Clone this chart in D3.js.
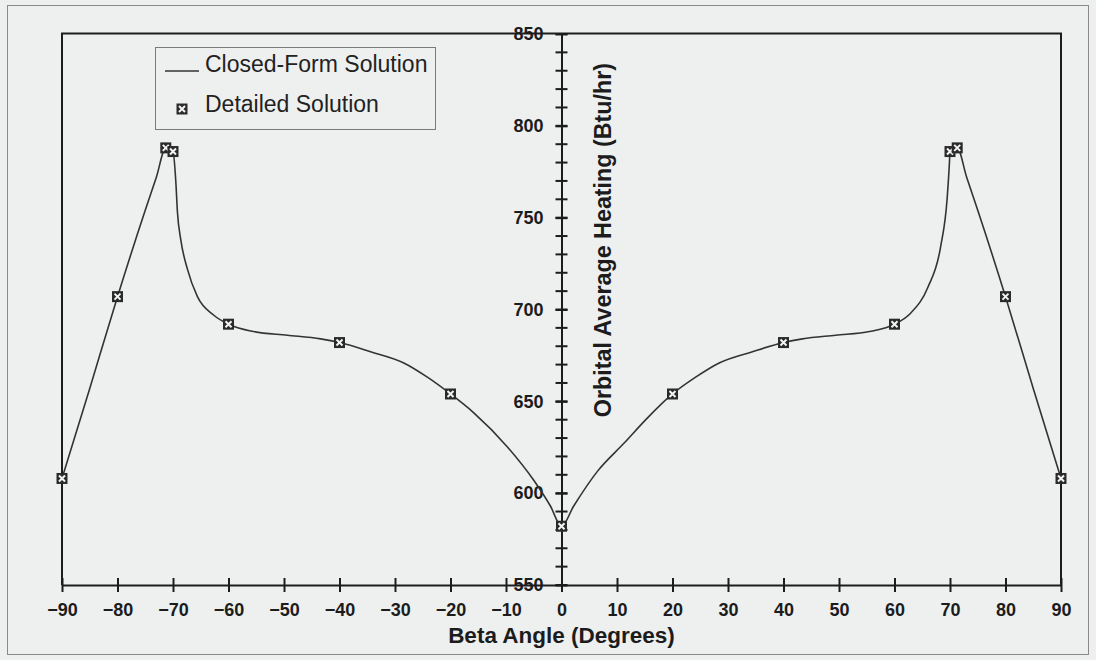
<!DOCTYPE html>
<html>
<head>
<meta charset="utf-8">
<script src="https://cdn.jsdelivr.net/npm/d3@7"></script>
<style>
  html, body { margin: 0; padding: 0; background: #eef0f0; }
  svg { display: block; font-family: "Liberation Sans", Arial, sans-serif; }
</style>
</head>
<body>
<main></main>
<script>
"use strict";

// detailed solution points (beta angle in degrees, heating in Btu/hr)
const detailBeta = [-90, -80, -71.3, -70, -60, -40, -20, 0, 20, 40, 60, 70, 71.3, 80, 90];
const detailHeat = [608, 707, 788, 786, 692, 682, 654, 582, 654, 682, 692, 786, 788, 707, 608];

// closed-form curve
const curveBeta = [-90, -85, -80, -75, -73, -71.3, -70, -69.5, -69.2, -68.6, -67.4, -65.6, -62.7, -60, -55.5, -49.4,
  -43.4, -40, -34.4, -28.5, -24.1, -20, -15.9, -9.7, -5, -2, 0, 2.2, 6.5, 11.2, 15.5, 20, 24.1, 28.5, 34.4, 40,
  43.4, 49.4, 55.5, 60, 62.9, 66, 68.3, 69.5, 69.9, 70, 71.3, 73, 75, 80, 85, 90];
const curveHeat = [608, 657, 707, 754, 772, 788, 786, 770, 753, 738, 722, 707, 697, 692, 688, 686,
  684, 682, 677, 671, 663, 654, 644, 625, 607, 593, 582, 593, 612, 627, 641, 654, 663, 671, 677, 682,
  684, 686, 688, 692, 698, 712, 734, 761, 780, 786, 788, 772, 754, 707, 657, 608];

const xTicks = [-90, -80, -70, -60, -50, -40, -30, -20, -10, 0, 10, 20, 30, 40, 50, 60, 70, 80, 90];
const yTicks = [550, 600, 650, 700, 750, 800, 850];
const yMinorTicks = d3.range(550, 851, 10);

const legendLabels = ["Closed-Form Solution", "Detailed Solution"];
const xTitle = "Beta Angle (Degrees)";
const yTitle = "Orbital Average Heating (Btu/hr)";

const svgWidth = 1096;
const svgHeight = 660;
const plotLeft = 62, plotRight = 1061, plotTop = 34, plotBottom = 585;
const ink = "#1c1c1c";

const svg = d3.select("main")
  .append("svg")
  .attr("width", svgWidth)
  .attr("height", svgHeight)
;

svg.append("rect")
  .attr("x", 7.5).attr("y", 5.5)
  .attr("width", svgWidth - 15).attr("height", svgHeight - 11)
  .attr("fill", "#eef0f0")
  .attr("stroke", "#8a8a8a")
  .attr("stroke-width", 1)
;

const xScale = d3.scaleLinear().domain([-90, 90]).range([plotLeft, plotRight]);
const yScale = d3.scaleLinear().domain([550, 850]).range([plotBottom, plotTop]);

// plot frame (top, left, right)
svg.append("path")
  .attr("d", `M${plotLeft},${plotBottom} V${plotTop - 0.5} H${plotRight} V${plotBottom}`)
  .attr("fill", "none")
  .attr("stroke", ink)
  .attr("stroke-width", 2)
;

// x axis at the bottom, ticks crossing the line
const xAxis = d3.axisBottom(xScale)
  .tickValues(xTicks)
  .tickSizeInner(7)
  .tickSizeOuter(0)
  .tickFormat(d3.format("d"))
;
const gx = svg.append("g")
  .attr("transform", `translate(0, ${plotBottom})`)
  .call(xAxis)
;
gx.select(".domain").attr("stroke", ink).attr("stroke-width", 2);
gx.selectAll(".tick line").attr("y1", -7).attr("stroke", ink).attr("stroke-width", 2);
gx.selectAll(".tick text")
  .attr("y", 18.5)
  .attr("fill", ink)
  .style("font-size", "18px")
  .style("font-weight", "bold")
  .style("font-family", "'Liberation Sans', Arial, sans-serif")
;

// y axis through beta = 0
const x0 = xScale(0);
const yAxis = d3.axisLeft(yScale)
  .tickValues(yTicks)
  .tickSizeInner(6)
  .tickSizeOuter(0)
  .tickFormat(d3.format("d"))
;
const gy = svg.append("g")
  .attr("transform", `translate(${x0}, 0)`)
  .call(yAxis)
;
gy.select(".domain").attr("stroke", ink).attr("stroke-width", 2);
gy.selectAll(".tick line").attr("x2", 6).attr("x1", -6).attr("stroke", ink).attr("stroke-width", 2);
gy.selectAll(".tick text")
  .attr("x", -18)
  .attr("fill", ink)
  .style("font-size", "18px")
  .style("font-weight", "bold")
  .style("font-family", "'Liberation Sans', Arial, sans-serif")
;
svg.append("g")
  .selectAll("line")
  .data(yMinorTicks)
  .enter()
  .append("line")
  .attr("x1", x0 - 6)
  .attr("x2", x0 + 6)
  .attr("y1", d => yScale(d))
  .attr("y2", d => yScale(d))
  .attr("stroke", ink)
  .attr("stroke-width", 2)
;

// axis titles
svg.append("text")
  .attr("x", x0)
  .attr("y", 643)
  .attr("text-anchor", "middle")
  .attr("fill", ink)
  .style("font-size", "22.5px")
  .style("font-weight", "bold")
  .text(xTitle)
;
svg.append("text")
  .attr("transform", `translate(611, 240) rotate(-90)`)
  .attr("text-anchor", "middle")
  .attr("fill", ink)
  .style("font-size", "23.3px")
  .style("font-weight", "bold")
  .text(yTitle)
;

// closed-form curve
const curvePoints = curveBeta.map((b, i) => [b, curveHeat[i]]);
const line = d3.line()
  .x(d => xScale(d[0]))
  .y(d => yScale(d[1]))
  .curve(d3.curveMonotoneX)
;
svg.append("path")
  .datum(curvePoints)
  .attr("d", line)
  .attr("fill", "none")
  .attr("stroke", "#333")
  .attr("stroke-width", 1.6)
;

// marker: dark square with a white cross
function drawMarker(g, cx, cy) {
  const s = 11;
  g.append("rect")
    .attr("x", cx - s / 2).attr("y", cy - s / 2)
    .attr("width", s).attr("height", s)
    .attr("fill", "#2a2a2a")
  ;
  g.append("path")
    .attr("d", `M${cx - 3},${cy - 3} L${cx + 3},${cy + 3} M${cx + 3},${cy - 3} L${cx - 3},${cy + 3}`)
    .attr("stroke", "#f4f4f4")
    .attr("stroke-width", 2)
  ;
}

const markers = svg.append("g");
detailBeta.forEach((b, i) => drawMarker(markers, xScale(b), yScale(detailHeat[i])));

// legend
const legend = svg.append("g");
legend.append("rect")
  .attr("x", 155.5).attr("y", 47.5)
  .attr("width", 280).attr("height", 82)
  .attr("fill", "#eef0f0")
  .attr("stroke", "#7a7a7a")
  .attr("stroke-width", 1)
;
legend.append("line")
  .attr("x1", 165).attr("x2", 199)
  .attr("y1", 71).attr("y2", 71)
  .attr("stroke", "#333")
  .attr("stroke-width", 1.6)
;
drawMarker(legend, 182, 109);
legend.selectAll("text.label")
  .data(legendLabels)
  .enter()
  .append("text")
  .attr("class", "label")
  .attr("x", 205)
  .attr("y", (d, i) => 72 + i * 40)
  .attr("fill", "#222")
  .style("font-size", "23px")
  .text(d => d)
;
</script>
</body>
</html>
